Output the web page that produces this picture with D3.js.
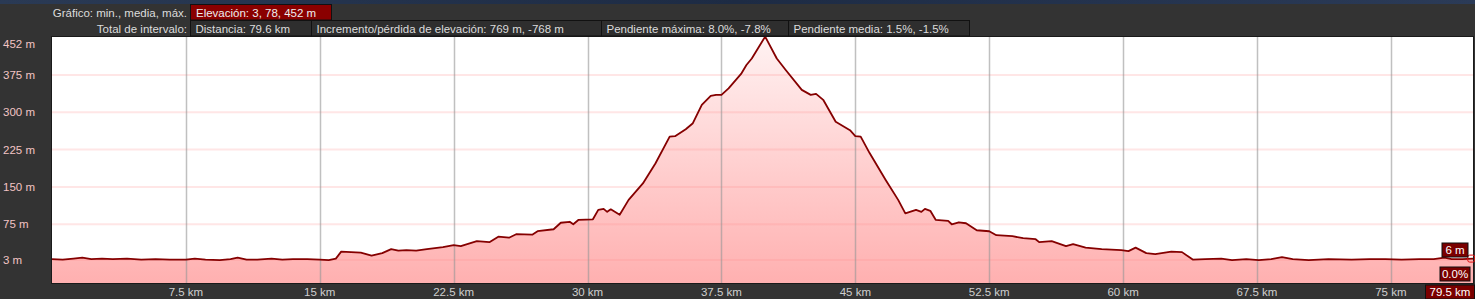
<!DOCTYPE html>
<html>
<head>
<meta charset="utf-8">
<script src="https://d3js.org/d3.v7.min.js"></script>
<style>
  body, html { margin: 0; padding: 0; background: #333; overflow: hidden; }
  svg { display: block; font-family: 'Liberation Sans', Arial, sans-serif; font-size: 11.5px; }
</style>
</head>
<body>
<svg width="1475" height="299"></svg>
<script>
// elevation profile (km, m)
const distKm = [0, 0.6, 1.2, 1.7, 2.2, 2.8, 3.4, 4.2, 5.0, 5.8, 6.6, 7.5, 8.0, 8.6, 9.4, 10.0, 10.4, 10.9, 11.5, 12.3,
  12.9, 13.5, 14.3, 15.0, 15.5, 15.9, 16.2, 17.3, 17.9, 18.5, 19.0, 19.4, 19.85, 20.4, 21.0, 21.9, 22.5, 22.9, 23.8, 24.5,
  25.0, 25.6, 26.0, 26.9, 27.2, 28.1, 28.5, 29.0, 29.2, 29.5, 30.3, 30.6, 30.9, 31.1, 31.3, 31.8, 32.3, 33.1, 33.8, 34.6,
  34.9, 35.5, 35.9, 36.4, 36.9, 37.2, 37.5, 37.9, 38.6, 38.9, 39.2, 39.95, 40.6, 41.1, 42.0, 42.5, 42.8, 43.2, 43.9, 44.7,
  45.0, 45.3, 45.8, 46.7, 47.4, 47.8, 48.4, 48.7, 48.9, 49.2, 49.5, 50.2, 50.4, 50.8, 51.2, 51.8, 52.5, 52.9, 53.8, 54.4,
  55.1, 55.3, 56.0, 56.8, 57.2, 57.9, 58.8, 59.9, 60.3, 60.7, 61.3, 61.8, 62.7, 63.3, 63.9, 64.6, 65.5, 66.1, 66.9, 67.6,
  68.3, 68.9, 69.5, 70.4, 71.5, 72.8, 73.8, 74.7, 75.6, 76.6, 77.4, 78.0, 78.4, 79.0, 79.6];
const elevM = [5, 4, 6, 8, 5, 6, 5, 6, 4, 5, 4, 4, 6, 4, 3, 5, 8, 4, 4, 6,
  4, 5, 5, 4, 3, 6, 20, 18, 12, 17, 25, 22, 23, 22, 25, 29, 33, 31, 41, 39,
  50, 48, 55, 54, 61, 65, 78, 80, 75, 84, 85, 104, 106, 100, 105, 94, 124, 157, 197, 251,
  252, 266, 278, 315, 333, 335, 335, 348, 377, 395, 408, 452, 408, 385, 345, 335, 337, 325, 281, 264,
  252, 251, 218, 164, 124, 97, 104, 100, 106, 102, 84, 82, 75, 79, 77, 63, 61, 53, 51, 47,
  45, 39, 41, 31, 35, 28, 25, 23, 21, 28, 17, 15, 20, 19, 4, 5, 6, 3, 5, 3,
  5, 9, 5, 3, 5, 4, 5, 5, 4, 5, 5, 8, 5, 5, 6];

const yTicks = [3, 75, 150, 225, 300, 375, 452];
const xTicks = [7.5, 15, 22.5, 30, 37.5, 45, 52.5, 60, 67.5, 75];

const headerRow1Label = "Gráfico: min., media, máx.";
const headerRow1 = ["Elevación: 3, 78, 452 m"];
const headerRow2Label = "Total de intervalo:";
const headerRow2 = ["Distancia: 79.6 km", "Incremento/pérdida de elevación: 769 m, -768 m",
  "Pendiente máxima: 8.0%, -7.8%", "Pendiente media: 1.5%, -1.5%"];
const row2Widths = [121, 290, 187, 181];

const cursorKm = 79.5, cursorElev = 6, cursorSlope = "0.0%";

const data = distKm.map((d, i) => ({km: d, m: elevM[i]}));

const svg = d3.select("svg");
const pLeft = 52, pRight = 1473, pTop = 37, pBottom = 283;

svg.append("rect").attr("width", 1475).attr("height", 299).attr("fill", "#333");
const defs = svg.append("defs");
// map strip at the very top
const strip = defs.append("linearGradient").attr("id", "strip");
strip.append("stop").attr("offset", "0%").attr("stop-color", "#2a3a55");
strip.append("stop").attr("offset", "50%").attr("stop-color", "#1d2b44");
strip.append("stop").attr("offset", "100%").attr("stop-color", "#2b3b58");
svg.append("rect").attr("width", 1475).attr("height", 4).attr("fill", "url(#strip)");

const x = d3.scaleLinear().domain([0, 79.6]).range([pLeft, pRight]);
const y = d3.scaleLinear().domain([3, 452]).range([260.1, 36.6]);

// plot background
svg.append("rect").attr("x", pLeft).attr("y", pTop).attr("width", pRight - pLeft).attr("height", pBottom - pTop)
  .attr("fill", "#fff");

const grad = defs.append("linearGradient").attr("id", "fill")
  .attr("gradientUnits", "userSpaceOnUse").attr("x1", 0).attr("x2", 0).attr("y1", pTop).attr("y2", pBottom);
grad.append("stop").attr("offset", "0%").attr("stop-color", "#fff2f2");
grad.append("stop").attr("offset", "100%").attr("stop-color", "#ffb0b0");

const area = d3.area().x(d => x(d.km)).y0(pBottom).y1(d => y(d.m));
svg.append("path").datum(data).attr("d", area).attr("fill", "url(#fill)");

// grid
svg.append("g").selectAll("line").data(yTicks.filter(t => t !== 452)).join("line")
  .attr("x1", pLeft).attr("x2", pRight).attr("y1", d => y(d)).attr("y2", d => y(d))
  .attr("stroke", "rgba(255,140,140,0.22)").attr("stroke-width", 2);
svg.append("g").selectAll("line").data(xTicks).join("line")
  .attr("x1", d => Math.round(x(d)) + 0.5).attr("x2", d => Math.round(x(d)) + 0.5)
  .attr("y1", pTop).attr("y2", pBottom)
  .attr("stroke", "rgba(150,150,150,0.6)").attr("stroke-width", 1.5);

const line = d3.line().x(d => x(d.km)).y(d => y(d.m));
svg.append("path").datum(data).attr("d", line).attr("fill", "none")
  .attr("stroke", "#850000").attr("stroke-width", 1.8).attr("stroke-linejoin", "round");

// frame
svg.append("rect").attr("x", pLeft - 0.5).attr("y", pTop - 0.5).attr("width", pRight - pLeft + 1).attr("height", pBottom - pTop + 1)
  .attr("fill", "none").attr("stroke", "#1a1a1a");

// y labels
svg.append("g").selectAll("text").data(yTicks).join("text")
  .attr("x", 3).attr("y", d => Math.max(y(d), 44)).attr("dy", "0.35em")
  .attr("fill", "#f2c4c4").text(d => d + " m");

// x labels
svg.append("g").selectAll("text").data(xTicks).join("text")
  .attr("x", d => x(d)).attr("y", 292).attr("dy", "0.35em").attr("text-anchor", "middle")
  .attr("fill", "#cfcfcf").text(d => d + " km");

// header
svg.append("text").attr("x", 187).attr("y", 12.5).attr("dy", "0.35em").attr("text-anchor", "end")
  .attr("fill", "#dcdcdc").text(headerRow1Label);
svg.append("rect").attr("x", 190.5).attr("y", 4.5).attr("width", 141).attr("height", 15.5)
  .attr("fill", "#8a0000").attr("stroke", "#111");
svg.append("text").attr("x", 196).attr("y", 12.5).attr("dy", "0.35em").attr("fill", "#eee").text(headerRow1[0]);

svg.append("text").attr("x", 187).attr("y", 28.5).attr("dy", "0.35em").attr("text-anchor", "end")
  .attr("fill", "#dcdcdc").text(headerRow2Label);
let bx = 190.5;
headerRow2.forEach((t, i) => {
  svg.append("rect").attr("x", bx).attr("y", 20.5).attr("width", row2Widths[i]).attr("height", 15.5)
    .attr("fill", "#2e2e2e").attr("stroke", "#111");
  svg.append("text").attr("x", bx + 5).attr("y", 28.5).attr("dy", "0.35em").attr("fill", "#dcdcdc").text(t);
  bx += row2Widths[i];
});

// cursor readouts
const cx = x(cursorKm), cy = y(cursorElev);
svg.append("rect").attr("x", cx - 3.5).attr("y", cy - 3.5).attr("width", 7).attr("height", 7).attr("rx", 2)
  .attr("fill", "none").attr("stroke", "#e01010").attr("stroke-width", 1);
function tag(txt, xr, yc, w) {
  svg.append("rect").attr("x", xr - w).attr("y", yc - 7).attr("width", w).attr("height", 14)
    .attr("fill", "#7a0000").attr("stroke", "#111");
  svg.append("text").attr("x", xr - w / 2).attr("y", yc).attr("dy", "0.35em").attr("text-anchor", "middle")
    .attr("fill", "#fff").text(txt);
}
tag(cursorElev + " m", 1468, 250, 26);
tag(cursorSlope, 1470, 274, 30);
tag(cursorKm + " km", 1474.5, 292, 49);
</script>
</body>
</html>
